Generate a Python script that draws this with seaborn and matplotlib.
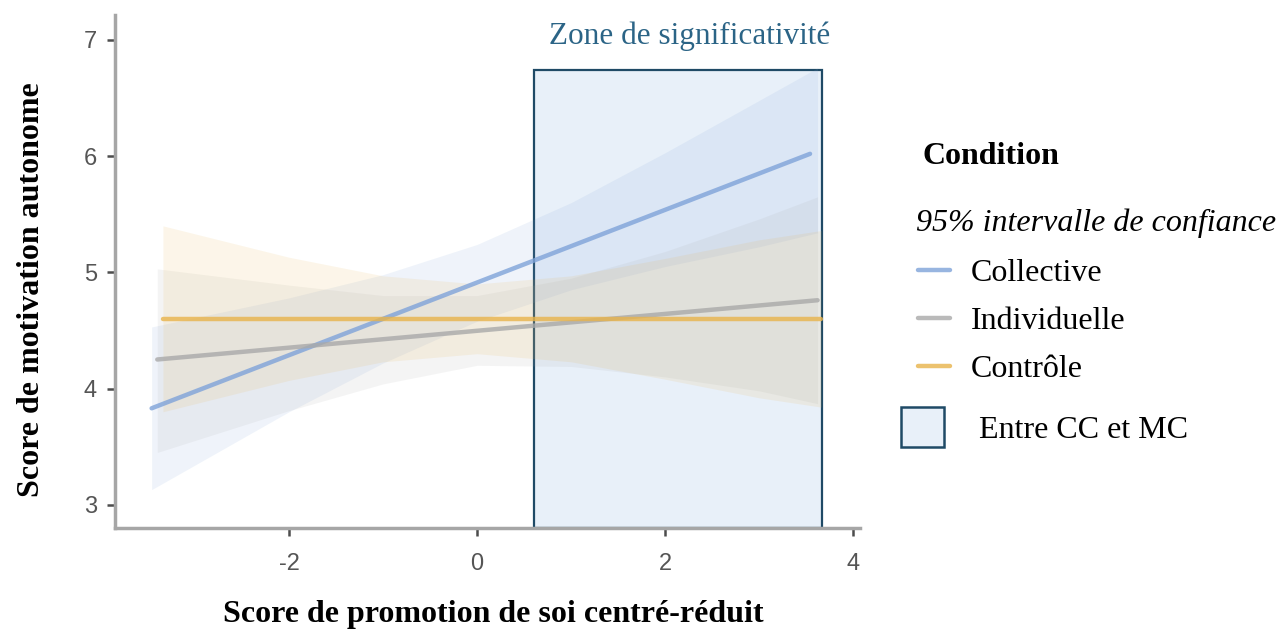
import numpy as np
import pandas as pd
import matplotlib
matplotlib.use("Agg")
import matplotlib.pyplot as plt
import seaborn as sns
from matplotlib.patches import Rectangle, Patch
from matplotlib.lines import Line2D

# --- data ---
conditions = ["Collective", "Individuelle", "Contrôle"]
colors = {"Collective": "#7fa3d9", "Individuelle": "#a9a9a9", "Contrôle": "#e8b34a"}

# fitted lines (end points)
line_x = {"Collective": [-3.46, 3.54], "Individuelle": [-3.40, 3.62], "Contrôle": [-3.34, 3.66]}
line_y = {"Collective": [3.83, 6.02], "Individuelle": [4.25, 4.76], "Contrôle": [4.60, 4.60]}

# 95% confidence bands
band_x = {
    "Collective":   [-3.46, -2, -1, 0, 1, 2, 3, 3.62],
    "Individuelle": [-3.40, -2, -1, 0, 1, 2, 3, 3.62],
    "Contrôle":     [-3.34, -2, -1, 0, 1, 2, 3, 3.66],
}
band_lo = {
    "Collective":   [3.13, 3.80, 4.22, 4.58, 4.85, 5.05, 5.22, 5.34],
    "Individuelle": [3.45, 3.81, 4.04, 4.20, 4.19, 4.10, 3.98, 3.87],
    "Contrôle":     [3.80, 4.07, 4.23, 4.30, 4.23, 4.08, 3.92, 3.84],
}
band_hi = {
    "Collective":   [4.53, 4.78, 4.98, 5.24, 5.60, 6.03, 6.48, 6.76],
    "Individuelle": [5.03, 4.89, 4.80, 4.80, 4.95, 5.18, 5.46, 5.65],
    "Contrôle":     [5.40, 5.13, 4.97, 4.90, 4.97, 5.12, 5.28, 5.36],
}

# significance zone
zone_x = [0.60, 3.67]
zone_top = 6.74

df = pd.concat([pd.DataFrame({"x": line_x[c], "y": line_y[c], "Condition": c}) for c in conditions])

sns.set_style("white")
plt.rcParams["font.family"] = ["Liberation Sans", "DejaVu Sans"]
plt.rcParams["axes.unicode_minus"] = False

fig = plt.figure(figsize=(12.8, 6.32), dpi=100)
ax = fig.add_axes([0.0898, 0.1646, 0.5820, 0.8117])
ax.set_xlim(-3.85, 4.07)
ax.set_ylim(2.80, 7.215)

ymin = ax.get_ylim()[0]
ax.add_patch(Rectangle((zone_x[0], ymin), zone_x[1] - zone_x[0], zone_top - ymin,
                       facecolor="#e8f0f9", edgecolor="#1f4a66", linewidth=1.6, zorder=1))

for c in conditions:
    ax.fill_between(band_x[c], band_lo[c], band_hi[c], color=colors[c], alpha=0.12,
                    linewidth=0, zorder=2)

sns.lineplot(data=df, x="x", y="y", hue="Condition", palette=colors, linewidth=3.2,
             alpha=0.8, legend=False, ax=ax, zorder=3)

ax.text(np.mean(zone_x) + 0.12, 7.035, "Zone de significativité", color="#2b6486",
        fontsize=22.5, family="Liberation Serif", ha="center", va="center")

ax.set_xticks([-2, 0, 2, 4])
ax.set_yticks([3, 4, 5, 6, 7])
ax.tick_params(axis="both", direction="out", length=6, width=1.8, color="#4d4d4d",
               labelcolor="#555555", labelsize=17, bottom=True, left=True)
ax.tick_params(axis="x", pad=12)
ax.tick_params(axis="y", pad=7)
for s in ["top", "right"]:
    ax.spines[s].set_visible(False)
for s in ["left", "bottom"]:
    ax.spines[s].set_color("#a6a6a6")
    ax.spines[s].set_linewidth(2.5)

ax.set_xlabel("Score de promotion de soi centré-réduit", family="Liberation Serif",
              fontweight="bold", fontsize=23, color="black")
ax.set_ylabel("Score de motivation autonome", family="Liberation Serif",
              fontweight="bold", fontsize=23, color="black")
ax.xaxis.set_label_coords(0.508, -0.140)
ax.yaxis.set_label_coords(-0.092, 0.464)

# legend
fig.text(922 / 1280, 1 - 156 / 632, "Condition", family="Liberation Serif",
         fontweight="bold", fontsize=23, va="center", ha="left", color="black")
fig.text(916 / 1280, 1 - 223 / 632, "95% intervalle de confiance", family="Liberation Serif",
         style="italic", fontsize=23, va="center", ha="left", color="black")

handles = [Line2D([], [], color=colors[c], linewidth=3.2, alpha=0.8) for c in conditions]
leg1 = fig.legend(handles, conditions, loc="upper left",
                  bbox_to_anchor=(918 / 1280, 1 - 259 / 632), frameon=False,
                  prop={"family": "Liberation Serif", "size": 23}, handlelength=1.0,
                  handletextpad=0.65, labelspacing=0.58, borderpad=0, borderaxespad=0,
                  labelcolor="black")
leg2 = fig.legend([Patch(facecolor="#e8f0f9", edgecolor="#1f4a66", linewidth=1.8)],
                  ["Entre CC et MC"], loc="upper left",
                  bbox_to_anchor=(901 / 1280, 1 - 407 / 632), frameon=False,
                  prop={"family": "Liberation Serif", "size": 23}, handlelength=1.35,
                  handleheight=1.55, handletextpad=1.1, borderpad=0, borderaxespad=0,
                  labelcolor="black")

fig.savefig("out.png", dpi=100)
